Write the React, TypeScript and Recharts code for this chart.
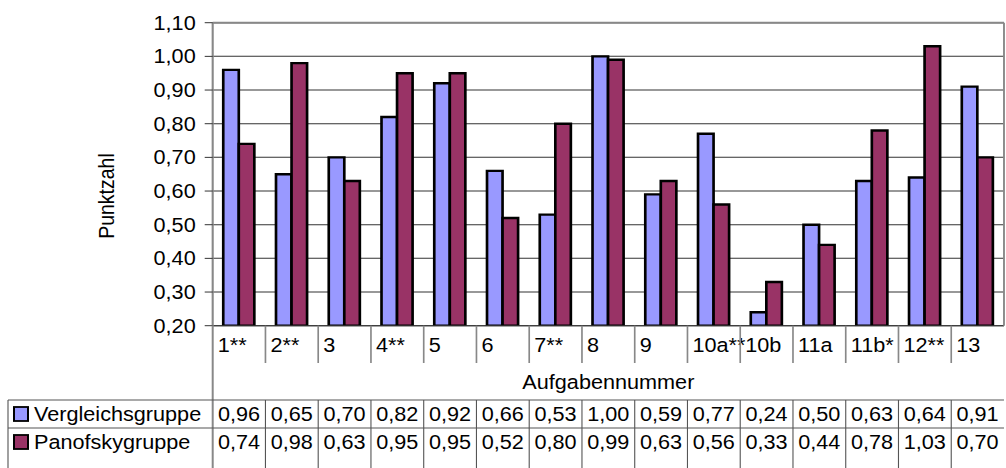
import { BarChart, Bar, XAxis, YAxis, CartesianGrid, ReferenceLine } from 'recharts';

// Aufgaben (Kategorien) und Mittelwerte je Gruppe
const CATEGORIES = ['1**', '2**', '3', '4**', '5', '6', '7**', '8', '9', '10a**', '10b', '11a', '11b*', '12**', '13'];
const VERGLEICH = [0.96, 0.65, 0.70, 0.82, 0.92, 0.66, 0.53, 1.00, 0.59, 0.77, 0.24, 0.50, 0.63, 0.64, 0.91];
const PANOFSKY = [0.74, 0.98, 0.63, 0.95, 0.95, 0.52, 0.80, 0.99, 0.63, 0.56, 0.33, 0.44, 0.78, 1.03, 0.70];
const Y_TICKS = [0.2, 0.3, 0.4, 0.5, 0.6, 0.7, 0.8, 0.9, 1.0, 1.1];

const SERIES = [
  { key: 'vergleich', name: 'Vergleichsgruppe', color: '#9999FF', values: VERGLEICH },
  { key: 'panofsky', name: 'Panofskygruppe', color: '#993366', values: PANOFSKY },
];

const data = CATEGORIES.map((cat, i) => ({
  cat,
  vergleich: VERGLEICH[i],
  panofsky: PANOFSKY[i],
}));

// the original picture is stretched horizontally, so the chart is drawn narrower and scaled back
const STRETCH = 1.11;
const sx = (px: number) => px / STRETCH;
const W = sx(1006);
const H = 468;
const PLOT_LEFT = sx(212.7);
const PLOT_RIGHT = sx(1004);
const PLOT_TOP = 22.7;
const PLOT_BOTTOM = 325.7;
const TABLE_TOP = 400;
const ROW_H = 28;
const FONT = 19.5;

const fmt = (v: number) => v.toFixed(2).replace('.', ',');

function XTick(props: any) {
  const { x, index, payload } = props;
  const bw = (PLOT_RIGHT - PLOT_LEFT) / CATEGORIES.length;
  const left = x - bw / 2;
  return (
    <g>
      {index > 0 ? (
        <line x1={left} x2={left} y1={PLOT_BOTTOM} y2={363} stroke="#888" strokeWidth={1.5} />
      ) : (
        <line x1={left} x2={left} y1={PLOT_BOTTOM} y2={H} stroke="#888" strokeWidth={1.8} />
      )}
      <text x={left + sx(5)} y={345} dominantBaseline="central" fontSize={FONT} fill="#000">
        {payload.value}
      </text>
      {index > 0 && (
        <line x1={left} x2={left} y1={TABLE_TOP} y2={H} stroke="#555" strokeWidth={1} />
      )}
      {SERIES.map((s, r) => (
        <text
          key={s.key}
          x={x}
          y={TABLE_TOP + ROW_H * r + ROW_H / 2}
          textAnchor="middle"
          dominantBaseline="central"
          fontSize={FONT}
          fill="#000"
        >
          {fmt(s.values[index])}
        </text>
      ))}
      {index === 0 && (
        <g>
          <text
            x={(PLOT_LEFT + PLOT_RIGHT) / 2}
            y={382}
            textAnchor="middle"
            dominantBaseline="central"
            fontSize={FONT}
            fill="#000"
          >
            Aufgabennummer
          </text>
          {[0, 1].map((r) => (
            <line
              key={r}
              x1={sx(8)}
              x2={PLOT_RIGHT}
              y1={TABLE_TOP + r * ROW_H}
              y2={TABLE_TOP + r * ROW_H}
              stroke="#555"
              strokeWidth={1}
            />
          ))}
          <line x1={sx(8)} x2={sx(8)} y1={TABLE_TOP} y2={H} stroke="#555" strokeWidth={1} />
          {SERIES.map((s, r) => (
            <g key={s.key}>
              <rect
                x={sx(14)}
                y={TABLE_TOP + ROW_H * r + ROW_H / 2 - 7}
                width={sx(14)}
                height={14}
                fill={s.color}
                stroke="#000"
                strokeWidth={1.8}
              />
              <text
                x={sx(34)}
                y={TABLE_TOP + ROW_H * r + ROW_H / 2}
                dominantBaseline="central"
                fontSize={FONT}
                fill="#000"
              >
                {s.name}
              </text>
            </g>
          ))}
        </g>
      )}
    </g>
  );
}

const renderYLabel = () => (
  <text
    x={sx(106)}
    y={196}
    transform={`rotate(-90, ${sx(106)}, 196)`}
    textAnchor="middle"
    dominantBaseline="central"
    fontSize={FONT}
    fill="#000"
  >
    Punktzahl
  </text>
);

export default function App() {
  return (
    <div
      style={{
        position: 'absolute',
        left: 0,
        top: 0,
        width: W,
        height: H,
        transform: `scaleX(${STRETCH})`,
        transformOrigin: '0 0',
        fontFamily: '"Liberation Sans", Arial, sans-serif',
        background: '#fff',
      }}
    >
      <BarChart
        width={W}
        height={H}
        data={data}
        margin={{ top: PLOT_TOP, right: 0, bottom: 0, left: 0 }}
        barCategoryGap="20%"
        barGap={0}
      >
        <CartesianGrid vertical={false} stroke="#333" strokeWidth={1} />
        <XAxis
          dataKey="cat"
          interval={0}
          height={H - PLOT_BOTTOM}
          tickLine={false}
          axisLine={{ stroke: '#333', strokeWidth: 1 }}
          tick={(p: any) => <XTick {...p} />}
        />
        <YAxis
          domain={[0.2, 1.1]}
          ticks={Y_TICKS}
          allowDataOverflow
          width={PLOT_LEFT}
          tickSize={sx(8)}
          tickMargin={sx(9)}
          tickFormatter={fmt}
          tick={{ fontSize: FONT, fill: '#000' }}
          tickLine={{ stroke: '#333' }}
          axisLine={{ stroke: '#888', strokeWidth: 1.9 }}
          label={renderYLabel}
        />
        <YAxis
          yAxisId="r"
          orientation="right"
          domain={[0.2, 1.1]}
          width={W - PLOT_RIGHT}
          tick={false}
          tickLine={false}
          axisLine={{ stroke: '#888', strokeWidth: 1.7 }}
        />
        <ReferenceLine y={1.1} stroke="#888" strokeWidth={2} />
        {SERIES.map((s) => (
          <Bar
            key={s.key}
            dataKey={s.key}
            name={s.name}
            fill={s.color}
            stroke="#000"
            strokeWidth={2.4}
            isAnimationActive={false}
          />
        ))}
      </BarChart>
    </div>
  );
}
